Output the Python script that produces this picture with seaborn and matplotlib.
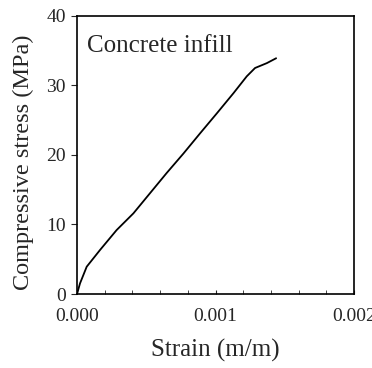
import numpy as np
import pandas as pd
import seaborn as sns
import matplotlib.pyplot as plt
from matplotlib.ticker import MultipleLocator

# stress-strain curve of the concrete infill
strain = [0.0, 0.0000217, 0.00007, 0.000166, 0.000286, 0.000407, 0.000527,
          0.000647, 0.000768, 0.000888, 0.00101, 0.00113, 0.001225,
          0.001285, 0.00137, 0.001437]
stress = [0.0, 1.53, 3.93, 6.33, 9.2, 11.6, 14.5, 17.4, 20.2, 23.1,
          26.0, 28.9, 31.3, 32.5, 33.2, 33.9]
x_ticks = [0.0, 0.001, 0.002]
x_labels = ["0.000", "0.001", "0.002"]
y_ticks = [0, 10, 20, 30, 40]

sns.set_style("ticks")
plt.rcParams["font.family"] = ["Liberation Serif", "DejaVu Serif"]

df = pd.DataFrame({"strain": strain, "stress": stress})

fig = plt.figure(figsize=(3.72, 3.68), dpi=100)
ax = fig.add_axes([0.207, 0.201, 0.745, 0.756])
sns.lineplot(data=df, x="strain", y="stress", ax=ax, color="black",
             linewidth=1.3, sort=False)

ax.set_xlim(0, 0.002)
ax.set_ylim(0, 40)
ax.set_xticks(x_ticks)
ax.set_xticklabels(x_labels)
ax.set_yticks(y_ticks)
ax.xaxis.set_minor_locator(MultipleLocator(0.0002))
ax.tick_params(axis="x", which="both", direction="in", length=3, labelsize=14, pad=10)
ax.tick_params(axis="y", direction="out", length=4, labelsize=14, pad=4)
for s in ax.spines.values():
    s.set_visible(True)
    s.set_linewidth(1.2)
    s.set_color("black")

ax.set_xlabel("Strain (m/m)", fontsize=18, labelpad=10)
ax.set_ylabel("Compressive stress (MPa)", fontsize=17.5)
ax.yaxis.set_label_coords(-0.155, 0.475)
ax.text(0.000072, 35.7, "Concrete infill", fontsize=18, va="center", ha="left")

fig.savefig("out.png", dpi=100)
